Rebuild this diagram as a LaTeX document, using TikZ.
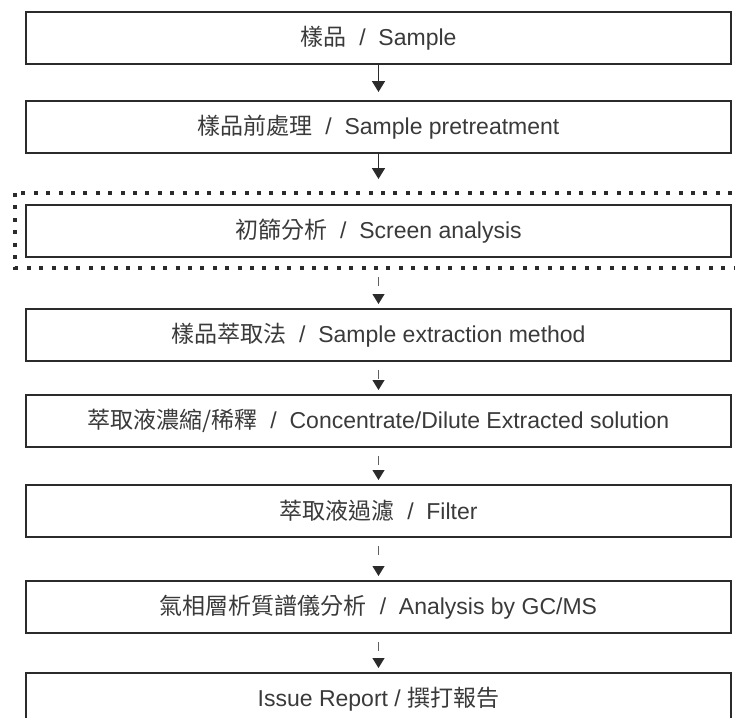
\documentclass[tikz,border=0pt]{standalone}
\usepackage{fontspec}
\setmainfont{Liberation Sans}
\newfontfamily\cjk{Noto Sans CJK TC}
\usepackage{tikz}
\usetikzlibrary{arrows.meta}
\definecolor{boxline}{HTML}{2B2B2B}
\definecolor{textgrey}{HTML}{3A3A3A}
\tikzset{
    stepbox/.style={
        draw=boxline,
        line width=1pt,
        minimum width=352.5pt,
        minimum height=26pt,
        inner sep=0pt,
        text=textgrey,
        font=\fontsize{11.5}{13}\selectfont
    },
    solidarrow/.style={
        -{Triangle[length=5.5pt,width=6.5pt]},
        draw=boxline,
        line width=0.9pt,
        shorten >=4pt
    },
    faintarrow/.style={
        -{Triangle[length=5pt,width=6pt,color=boxline]},
        draw=boxline!75,
        line width=0.6pt,
        dash pattern=on 0pt off 4pt on 4.5pt off 30pt,
        shorten >=2pt
    },
    screenframe/.style={
        draw=boxline,
        line width=2pt,
        dash pattern=on 2pt off 4.2pt
    }
}

\begin{document}
\begin{tikzpicture}[x=0.5pt, y=-0.5pt]
\clip (0,0) rectangle (735,718);

% steps
\node[stepbox] (sample) at (378.5,38) {{\cjk 樣品}~~/~~Sample};
\node[stepbox] (pretreat) at (378.5,127) {{\cjk 樣品前處理}~~/~~Sample pretreatment};
\node[stepbox] (screen) at (378.5,231) {{\cjk 初篩分析}~~/~~Screen analysis};
\node[stepbox] (extract) at (378.5,335) {{\cjk 樣品萃取法}~~/~~Sample extraction method};
\node[stepbox] (concdil) at (378.5,421) {{\cjk 萃取液濃縮/稀釋}~~/~~Concentrate/Dilute Extracted solution};
\node[stepbox] (filter) at (378.5,511) {{\cjk 萃取液過濾}~~/~~Filter};
\node[stepbox] (gcms) at (378.5,607) {{\cjk 氣相層析質譜儀分析}~~/~~Analysis by GC/MS};
\node[stepbox] (report) at (378.5,699) {Issue Report / {\cjk 撰打報告}};

% dotted frame round the screening step
\draw[screenframe] (15,193) rectangle (745,268);

% connectors
\draw[solidarrow] (sample) -- (pretreat);
\draw[solidarrow, shorten >=12.5pt] (pretreat) -- (screen);
\draw[faintarrow, shorten <=5.5pt] (screen) -- (extract);
\draw[faintarrow] (extract) -- (concdil);
\draw[faintarrow] (concdil) -- (filter);
\draw[faintarrow] (filter) -- (gcms);
\draw[faintarrow] (gcms) -- (report);
\end{tikzpicture}
\end{document}
